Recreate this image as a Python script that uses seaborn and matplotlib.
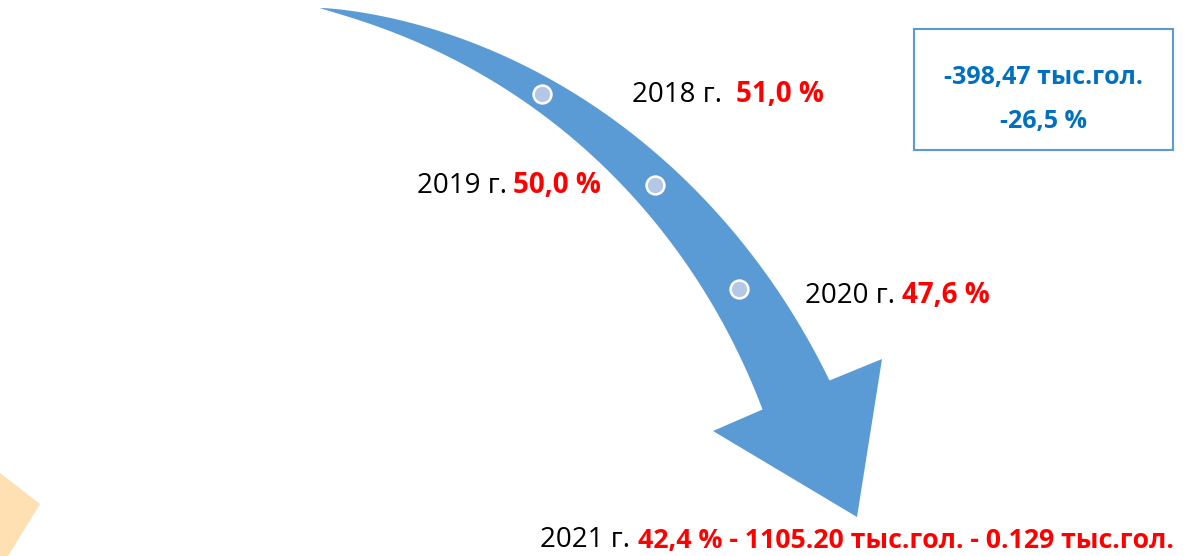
import numpy as np
import seaborn as sns
import matplotlib.pyplot as plt
from matplotlib.patches import Polygon, Rectangle

years = ['2018 г.', '2019 г.', '2020 г.', '2021 г.']
shares = ['51,0 %', '50,0 %', '47,6 %', '42,4 % - 1105.20 тыс.гол. - 0.129 тыс.гол.']
summary = ['-398,47 тыс.гол.', '-26,5 %']

# arrow geometry, in pixels of the 1191x556 picture (y grows downward)
ctrl = np.array([[320, 8], [535, 45], [709, 194], [796, 395]], dtype=float)
shaft_width = 73
head = np.array([[713, 431], [857, 517], [882, 359]], dtype=float)
dot_t = [0.375, 0.605, 0.815]
label_pos = [(632, 102), (417, 193), (805, 303), (540, 547)]
label_gap = [10, 4, 5, 6]
red_width = [None, None, None, 535]   # the long 2021 line has to fit the picture

sns.set_theme(style='white')
plt.rcParams['font.family'] = ['Open Sans', 'DejaVu Sans']

def bez(t):
    t = np.asarray(t, dtype=float)[:, None]
    return ((1 - t) ** 3 * ctrl[0] + 3 * (1 - t) ** 2 * t * ctrl[1]
            + 3 * (1 - t) * t ** 2 * ctrl[2] + t ** 3 * ctrl[3])

def bez_d(t):
    t = np.asarray(t, dtype=float)[:, None]
    return (3 * (1 - t) ** 2 * (ctrl[1] - ctrl[0]) + 6 * (1 - t) * t * (ctrl[2] - ctrl[1])
            + 3 * t ** 2 * (ctrl[3] - ctrl[2]))

tt = np.linspace(0, 1, 400)
pts = bez(tt)
d = bez_d(tt)
nrm = np.column_stack([-d[:, 1], d[:, 0]]) / np.linalg.norm(d, axis=1)[:, None]
seg = np.r_[0, np.cumsum(np.linalg.norm(np.diff(pts, axis=0), axis=1))]
w = shaft_width * (seg / seg[-1]) ** 0.8
side_a = pts + nrm * w[:, None] / 2
side_b = pts - nrm * w[:, None] / 2
outline = np.vstack([side_a, head, side_b[::-1]])

fig = plt.figure(figsize=(11.91, 5.56), dpi=100)
ax = fig.add_axes([0, 0, 1, 1])
ax.set_xlim(0, 1191)
ax.set_ylim(556, 0)

ax.add_patch(Polygon([[0, 473], [40, 504], [8, 556], [0, 556]], closed=True,
                     facecolor='#FFE0B3', edgecolor='none'))
ax.add_patch(Polygon(outline, closed=True, facecolor='#5B9BD5', edgecolor='none', zorder=2))

dots = bez(dot_t)
sns.scatterplot(x=dots[:, 0], y=dots[:, 1], ax=ax, s=165, color='#B4C7E7',
                edgecolor='white', linewidth=1.8, zorder=3)

renderer = fig.canvas.get_renderer()
for yr, sh, (x, y), gap, rw in zip(years, shares, label_pos, label_gap, red_width):
    t = ax.text(x, y, yr, fontsize=20, color='black', ha='left', va='baseline')
    red = ax.annotate(sh, xy=(1, 0), xycoords=t, xytext=(gap, 0), textcoords='offset points',
                      fontsize=20, fontweight='bold', color='red', ha='left', va='bottom')
    if rw:
        bw = red.get_window_extent(renderer).width
        red.set_fontsize(20 * rw / bw)

ax.add_patch(Rectangle((914, 29), 259, 121, fill=False, edgecolor='#5B9BD5', linewidth=1.5))
ax.text(1043, 84, summary[0], fontsize=18, fontweight='bold', color='#0070C0',
        ha='center', va='baseline')
ax.text(1043, 128, summary[1], fontsize=18, fontweight='bold', color='#0070C0',
        ha='center', va='baseline')

ax.set_xlim(0, 1191)
ax.set_ylim(556, 0)
ax.axis('off')

fig.savefig('out.png', dpi=100)
